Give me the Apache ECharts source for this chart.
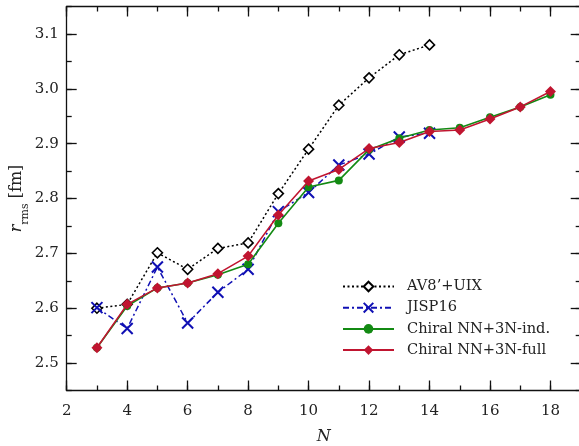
<!DOCTYPE html>
<html><head><meta charset="utf-8">
<script src="https://cdn.jsdelivr.net/npm/echarts@6/dist/echarts.min.js"></script>
<style>html,body{margin:0;padding:0;background:#fff}#c{width:579px;height:446px}</style>
</head><body><div id="c"></div>
<script>
const nAV8 = [3,4,5,6,7,8,9,10,11,12,13,14];
const av8 = [2.600,2.607,2.701,2.671,2.709,2.719,2.809,2.890,2.970,3.020,3.062,3.080];
const nJISP = [3,4,5,6,7,8,9,10,11,12,13,14];
const jisp = [2.601,2.563,2.675,2.573,2.629,2.671,2.776,2.811,2.861,2.881,2.912,2.919];
const nChiral = [3,4,5,6,7,8,9,10,11,12,13,14,15,16,17,18];
const chiralInd = [2.528,2.604,2.637,2.646,2.661,2.680,2.755,2.821,2.833,2.889,2.910,2.925,2.929,2.948,2.967,2.989];
const chiralFull = [2.528,2.607,2.637,2.646,2.663,2.695,2.770,2.832,2.853,2.891,2.902,2.922,2.925,2.945,2.967,2.995];
const names = ["AV8\u2019+UIX","JISP16","Chiral NN+3N-ind.","Chiral NN+3N-full"];
const yMajorTicks = [2.5,2.6,2.7,2.8,2.9,3.0,3.1];

const pair = (xs, ys) => xs.map((x,i)=>[x,ys[i]]);
const FONT = "DejaVu Serif";
const axCol = '#111';
function xAx(pos, interval, len, show){
  return {type:'value', position:pos, min:2, max:19, interval:interval,
    axisLine:{show:show, lineStyle:{color:axCol,width:1.3}},
    axisTick:{show:true, inside:true, length:len, lineStyle:{color:axCol,width:1.3}},
    splitLine:{show:false}, axisLabel:{show:false}};
}
function yAx(pos, interval, len, show, major){
  const a = {type:'value', position:pos, min:2.45, max:3.15, interval:interval,
    axisLine:{show:show, lineStyle:{color:axCol,width:1.3}},
    axisTick:{show:true, inside:true, length:len, lineStyle:{color:axCol,width:1.3}},
    splitLine:{show:false}, axisLabel:{show:false}};
  if (major) a.axisTick.customValues = yMajorTicks;
  return a;
}
const x0 = xAx('bottom',2,10,true);
x0.axisLabel = {show:true, margin:13, color:'#222', fontFamily:FONT, fontSize:15, showMaxLabel:false};
x0.name = 'N'; x0.nameLocation='middle'; x0.nameGap=38;
x0.nameTextStyle={fontFamily:FONT, fontStyle:'italic', fontSize:16, color:'#222'};
const y0 = yAx('left',0.05,10,true,true);
y0.axisLabel = {show:true, margin:8, color:'#222', fontFamily:FONT, fontSize:15,
  customValues: yMajorTicks, formatter: v => v.toFixed(1)};
y0.name = '{i|r}{s|rms} [fm]'; y0.nameLocation='middle'; y0.nameGap=42; y0.nameRotate=90;
y0.nameMoveOverlap = false;
y0.nameTextStyle={fontFamily:FONT, fontSize:16, color:'#222',
  rich:{i:{fontFamily:FONT,fontStyle:'italic',fontSize:16,color:'#222'},
        s:{fontFamily:FONT,fontSize:11,color:'#222',verticalAlign:'bottom',padding:[0,0,-6,0]}}};

const crossPath = 'path://M0,0L10,10M10,0L0,10';
const option = {
  animation:false,
  backgroundColor:'#fff',
  grid:{left:66.7, top:6.5, width:514, height:384, containLabel:false, outerBoundsMode:'none'},
  xAxis:[x0, xAx('bottom',1,5,false), xAx('top',2,10,true), xAx('top',1,5,false)],
  yAxis:[y0, yAx('left',0.05,5,false,false), yAx('right',0.05,10,true,true), yAx('right',0.05,5,false,false)],
  legend:{orient:'vertical', left:337, top:274, padding:5, itemWidth:51, itemHeight:12, itemGap:6.2,
    textStyle:{fontFamily:FONT, fontSize:14.6, color:'#222', padding:[0,0,0,8]},
    data:names},
  series:[
    {name:names[0], type:'line', data:pair(nAV8,av8), symbol:'diamond', symbolSize:10,
      lineStyle:{color:'#000', width:1.5, type:[2,2.5]},
      itemStyle:{color:'#fff', borderColor:'#000', borderWidth:1.6}, z:2},
    {name:names[1], type:'line', data:pair(nJISP,jisp), symbol:crossPath, symbolSize:11,
      lineStyle:{color:'#1010b4', width:1.5, type:[6,3,2,3]},
      itemStyle:{color:'#1010b4', borderColor:'#1010b4', borderWidth:2}, z:3},
    {name:names[2], type:'line', data:pair(nChiral,chiralInd), symbol:'circle', symbolSize:8,
      lineStyle:{color:'#138a13', width:1.6},
      itemStyle:{color:'#138a13'}, z:4},
    {name:names[3], type:'line', data:pair(nChiral,chiralFull), symbol:'diamond', symbolSize:11,
      lineStyle:{color:'#c01530', width:1.6},
      itemStyle:{color:'#c01530'}, z:5}
  ]
};
echarts.init(document.getElementById('c')).setOption(option);
</script></body></html>
